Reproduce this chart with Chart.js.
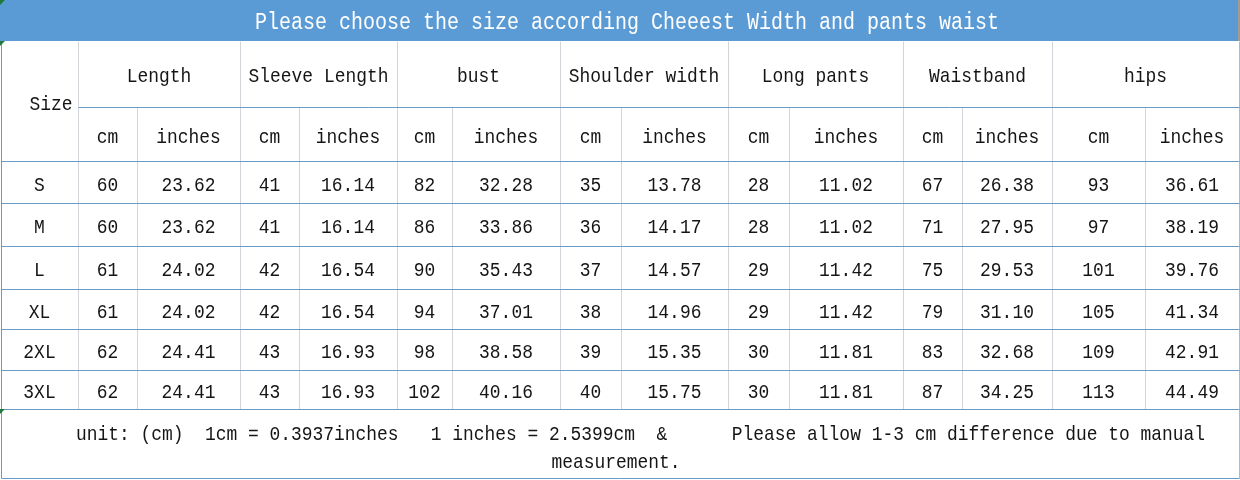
<!DOCTYPE html>
<html>
<head>
<meta charset="utf-8">
<script src="https://cdn.jsdelivr.net/npm/chart.js@4/dist/chart.umd.min.js"></script>
<style>
  html, body { margin: 0; padding: 0; background: #fff; }
  #wrap { width: 1240px; height: 480px; }
</style>
</head>
<body>
<div id="wrap"><canvas id="chart"></canvas></div>
<script>
// table values
const title = 'Please choose the size according Cheeest Width and pants waist';
const sizes = ['S', 'M', 'L', 'XL', '2XL', '3XL'];
const groups = ['Length', 'Sleeve Length', 'bust', 'Shoulder width', 'Long pants', 'Waistband', 'hips'];
const units = ['cm', 'inches'];

const lengthCm = [60, 60, 61, 61, 62, 62];
const lengthIn = [23.62, 23.62, 24.02, 24.02, 24.41, 24.41];
const sleeveCm = [41, 41, 42, 42, 43, 43];
const sleeveIn = [16.14, 16.14, 16.54, 16.54, 16.93, 16.93];
const bustCm = [82, 86, 90, 94, 98, 102];
const bustIn = [32.28, 33.86, 35.43, 37.01, 38.58, 40.16];
const shoulderCm = [35, 36, 37, 38, 39, 40];
const shoulderIn = [13.78, 14.17, 14.57, 14.96, 15.35, 15.75];
const pantsCm = [28, 28, 29, 29, 30, 30];
const pantsIn = [11.02, 11.02, 11.42, 11.42, 11.81, 11.81];
const waistCm = [67, 71, 75, 79, 83, 87];
const waistIn = [26.38, 27.95, 29.53, 31.10, 32.68, 34.25];
const hipsCm = [93, 97, 101, 105, 109, 113];
const hipsIn = [36.61, 38.19, 39.76, 41.34, 42.91, 44.49];

const cmSeries = [lengthCm, sleeveCm, bustCm, shoulderCm, pantsCm, waistCm, hipsCm];
const inSeries = [lengthIn, sleeveIn, bustIn, shoulderIn, pantsIn, waistIn, hipsIn];

const note1 = 'unit: (cm)  1cm = 0.3937inches   1 inches = 2.5399cm  &      Please allow 1-3 cm difference due to manual';
const note2 = 'measurement.';

// layout of the grid (in scale units = px)
const colEdges = [1, 78, 137, 240, 299, 397, 452, 560, 621, 728, 789, 903, 962, 1052, 1145, 1239];
const rowEdges = [0, 41, 107, 161, 203, 246, 289, 329, 370, 409, 478];

const mid = (a, b) => (a + b) / 2;

// build point lists
const titlePts = [{ x: 627, y: mid(rowEdges[0], rowEdges[1]), text: title }];

const groupPts = groups.map((g, i) => ({
  x: mid(colEdges[1 + 2 * i], colEdges[3 + 2 * i]),
  y: mid(rowEdges[1], rowEdges[2]),
  text: g
}));
groupPts.push({ x: 51, y: mid(rowEdges[1], rowEdges[3]) + 1, text: 'Size' });

const unitPts = [];
groups.forEach((g, i) => {
  units.forEach((u, j) => {
    const c = 1 + 2 * i + j;
    unitPts.push({ x: mid(colEdges[c], colEdges[c + 1]), y: mid(rowEdges[2], rowEdges[3]), text: u });
  });
});

const valuePts = [];
sizes.forEach((s, r) => {
  const y = mid(rowEdges[3 + r], rowEdges[4 + r]);
  valuePts.push({ x: mid(colEdges[0], colEdges[1]), y: y, text: s });
  groups.forEach((g, i) => {
    const c = 1 + 2 * i;
    valuePts.push({ x: mid(colEdges[c], colEdges[c + 1]), y: y, text: String(cmSeries[i][r]) });
    valuePts.push({ x: mid(colEdges[c + 1], colEdges[c + 2]), y: y, text: inSeries[i][r].toFixed(2) });
  });
});

const notePts = [
  { x: 76, y: 433, text: note1, align: 'left' },
  { x: 616, y: 461, text: note2 }
];

const textDataset = (label, data, opts) => Object.assign({
  label: label,
  data: data,
  pointRadius: 0,
  pointHoverRadius: 0,
  showLine: false,
  fontSize: 21,
  advance: 10.75,
  color: '#151515',
  offsetY: 8.5
}, opts);

// grid lines, header bar
const gridPlugin = {
  id: 'tableGrid',
  beforeDatasetsDraw(chart) {
    const ctx = chart.ctx;
    const xs = chart.scales.x, ys = chart.scales.y;
    const px = v => Math.round(xs.getPixelForValue(v)) + 0.5;
    const py = v => Math.round(ys.getPixelForValue(v)) + 0.5;
    ctx.save();
    // header bar
    ctx.fillStyle = '#5b9bd5';
    ctx.fillRect(xs.getPixelForValue(0), ys.getPixelForValue(0),
      xs.getPixelForValue(1238) - xs.getPixelForValue(0), ys.getPixelForValue(41) - ys.getPixelForValue(0));
    ctx.fillStyle = '#a39a92';
    ctx.fillRect(xs.getPixelForValue(1238), ys.getPixelForValue(0), 2, ys.getPixelForValue(41));

    const line = (x1, y1, x2, y2, color) => {
      ctx.strokeStyle = color;
      ctx.lineWidth = 1;
      ctx.beginPath();
      ctx.moveTo(px(x1), py(y1));
      ctx.lineTo(px(x2), py(y2));
      ctx.stroke();
    };
    const gray = '#d2d5d9';
    const blue = '#6a9ac6';
    // vertical lines
    for (let c = 1; c < colEdges.length - 1; c++) {
      const top = (c % 2 === 0) ? rowEdges[2] : rowEdges[1];
      line(colEdges[c], top, colEdges[c], rowEdges[9], gray);
    }
    line(colEdges[colEdges.length - 1], rowEdges[1], colEdges[colEdges.length - 1], rowEdges[10], '#a8bbcf');
    // horizontal lines
    line(colEdges[1], rowEdges[2], colEdges[colEdges.length - 1], rowEdges[2], blue);
    for (let r = 3; r < rowEdges.length; r++) {
      line(colEdges[0], rowEdges[r], colEdges[colEdges.length - 1], rowEdges[r], blue);
    }
    line(colEdges[0], rowEdges[1], colEdges[0], rowEdges[10], blue);

    // little excel markers
    ctx.fillStyle = '#1f7a3a';
    [0, 41, 409].forEach(v => {
      const y0 = ys.getPixelForValue(v);
      ctx.beginPath();
      ctx.moveTo(0, y0);
      ctx.lineTo(5, y0);
      ctx.lineTo(0, y0 + 5);
      ctx.closePath();
      ctx.fill();
    });
    ctx.restore();
  }
};

const textPlugin = {
  id: 'cellText',
  afterDatasetsDraw(chart) {
    const ctx = chart.ctx;
    chart.data.datasets.forEach((ds, i) => {
      const meta = chart.getDatasetMeta(i);
      ctx.save();
      ctx.font = ds.fontSize + 'px "Liberation Mono", "DejaVu Sans Mono", monospace';
      ctx.fillStyle = ds.color;
      ctx.textBaseline = 'alphabetic';
      const sx = ds.advance / (0.6 * ds.fontSize);
      meta.data.forEach((el, k) => {
        const raw = ds.data[k];
        const align = raw.align || 'center';
        ctx.save();
        ctx.translate(el.x, el.y + ds.offsetY);
        ctx.scale(sx, 1);
        ctx.textAlign = align;
        ctx.fillText(raw.text, 0, 0);
        ctx.restore();
      });
      ctx.restore();
    });
  }
};

const config = {
  type: 'scatter',
  data: {
    datasets: [
      textDataset('title', titlePts, { fontSize: 23, advance: 12, color: '#ffffff', offsetY: 8.5 }),
      textDataset('groups', groupPts, { offsetY: 8 }),
      textDataset('units', unitPts),
      textDataset('values', valuePts),
      textDataset('notes', notePts, { offsetY: 6.5 })
    ]
  },
  options: {
    responsive: true,
    maintainAspectRatio: false,
    animation: false,
    layout: { padding: 0 },
    scales: {
      x: { type: 'linear', min: 0, max: 1240, display: false },
      y: { type: 'linear', min: 0, max: 480, reverse: true, display: false }
    },
    plugins: {
      legend: { display: false },
      tooltip: { enabled: false },
      title: { display: false }
    },
    events: []
  },
  plugins: [gridPlugin, textPlugin]
};

const chart = new Chart(document.getElementById('chart'), config);
</script>
</body>
</html>
